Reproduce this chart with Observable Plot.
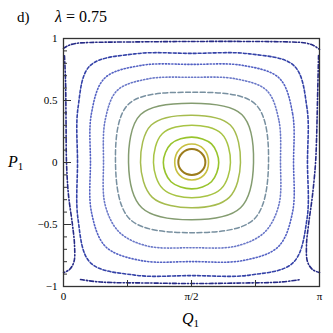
<!DOCTYPE html>
<html>
<head>
<meta charset="utf-8">
<script src="https://cdn.jsdelivr.net/npm/d3@7"></script>
<script src="https://cdn.jsdelivr.net/npm/@observablehq/plot@0.6"></script>
<style>
  html, body { margin: 0; padding: 0; background: #fff; }
</style>
</head>
<body>
<div id="chart"></div>
<script>
// ---- data: closed orbits (Q1, P1), innermost first ----
const ring1 = [[1.741,0],[1.692,0.076],[1.575,0.108],[1.458,0.076],[1.409,0],[1.458,-0.071],[1.575,-0.100],[1.692,-0.071]];
const ring2 = [[1.780,0],[1.723,0.107],[1.575,0.149],[1.424,0.107],[1.365,0],[1.424,-0.102],[1.575,-0.141],[1.723,-0.102]];
const ring3 = [[1.905,0],[1.816,0.150],[1.575,0.205],[1.319,0.150],[1.225,0],[1.319,-0.155],[1.575,-0.213],[1.816,-0.155]];
const ring4 = [[2.049,0],[1.940,0.232],[1.575,0.301],[1.212,0.232],[1.104,0],[1.222,-0.214],[1.575,-0.285],[1.931,-0.214]];
const ring5 = [[2.172,0],[2.047,0.302],[1.575,0.382],[1.077,0.302],[0.945,0],[1.090,-0.281],[1.575,-0.365],[2.035,-0.281]];
const ring6 = [[2.332,0],[2.188,0.387],[1.575,0.478],[0.946,0.387],[0.798,0],[0.961,-0.365],[1.575,-0.462],[2.173,-0.365]];
const ring7 = [[2.516,0],[2.356,0.470],[1.575,0.566],[0.797,0.470],[0.638,0],[0.816,-0.458],[1.575,-0.566],[2.337,-0.458]];
const ring8 = [[2.663,0],[2.642,0.344],[2.494,0.581],[2.119,0.674],[1.575,0.687],[1.033,0.674],[0.659,0.581],[0.512,0.344],
               [0.491,0],[0.512,-0.344],[0.686,-0.563],[1.033,-0.674],[1.575,-0.687],[2.119,-0.674],[2.467,-0.563],[2.642,-0.344]];
const ring9 = [[2.823,0],[2.811,0.396],[2.648,0.680],[2.199,0.783],[1.575,0.791],[0.953,0.783],[0.505,0.680],[0.343,0.396],
               [0.331,0],[0.343,-0.400],[0.518,-0.679],[0.953,-0.791],[1.575,-0.799],[2.199,-0.791],[2.636,-0.679],[2.811,-0.400]];
const ring10 = [[2.994,0],[2.988,0.440],[2.830,0.780],[2.285,0.876],[1.575,0.880],[0.874,0.876],[0.325,0.780],[0.178,0.440],
                [0.172,0],[0.178,-0.456],[0.330,-0.808],[0.874,-0.908],[1.575,-0.912],[2.285,-0.908],[2.818,-0.808],[2.988,-0.456]];
const rings = [ring1, ring2, ring3, ring4, ring5, ring6, ring7, ring8, ring9, ring10];

// ---- data: outer open orbits near the boundary ----
const topCurve = [[0,0.920],[0.061,0.944],[0.147,0.960],[0.331,0.968],[0.822,0.972],[1.571,0.976],[2.295,0.976],[2.786,0.972],[2.970,0.964],[3.068,0.944],[3.142,0.912]];
const bottomCurve = [[0.209,-0.944],[0.454,-0.964],[1.068,-0.972],[1.571,-0.976],[2.172,-0.972],[2.663,-0.964],[2.908,-0.944]];
const leftCurve = [[0.012,0.860],[0.025,0.663],[0.031,0.341],[0.037,-0.004],[0.061,-0.261],[0.110,-0.502],[0.135,-0.663],[0.129,-0.799],[0.074,-0.863],[0,-0.888]];
const rightCurve = [[3.130,0.863],[3.117,0.502],[3.105,0.181],[3.093,-0.004],[3.056,-0.261],[3.007,-0.502],[2.982,-0.663],[2.994,-0.799],[3.056,-0.863],[3.142,-0.888]];
const outerCurves = [topCurve, bottomCurve, leftCurve, rightCurve];

// ---- ticks and labels ----
const yMinorTicks = [-0.9,-0.8,-0.7,-0.6,-0.4,-0.3,-0.2,-0.1,0.1,0.2,0.3,0.4,0.6,0.7,0.8,0.9];
const yMajorTicks = [-0.5, 0, 0.5];
const yLabelValues = [-1, -0.5, 0, 0.5, 1];
const yLabelTexts = ["\u22121", "\u22120.5", "0", "0.5", "1"];
const xTickValues = [Math.PI/4, Math.PI/2, 3*Math.PI/4];
const xLabelValues = [0, Math.PI/2, Math.PI];
const xLabelTexts = ["0", "\u03c0/2", "\u03c0"];

// ---- styles ----
const ringColors = ["#9c7c1c", "#c8c040", "#98c42c", "#a8c444", "#a6bc4e", "#849c70", "#7890a0", "#6a78c8", "#5462c4", "#3442a8"];
const ringDash = [null, null, null, null, null, null, "5,2.5", "1.2,2", "1.2,2", "3,2"];
const ringWidth = [2, 1.6, 1.6, 1.5, 1.5, 1.5, 1.5, 1.6, 1.6, 1.6];

const W = 333, H = 333;
const mL = 63, mR = 14, mT = 38, mB = 47;
const fw = W - mL - mR, fh = H - mT - mB;

const yLabelMap = new Map(yLabelValues.map((v, i) => [v, yLabelTexts[i]]));
const xLabelMap = new Map(xLabelValues.map((v, i) => [v, xLabelTexts[i]]));

const marks = [];
rings.forEach((r, i) => {
  marks.push(Plot.line(r, {
    x: d => d[0], y: d => d[1],
    curve: "catmull-rom-closed",
    stroke: ringColors[i], strokeWidth: ringWidth[i],
    strokeDasharray: ringDash[i] ?? undefined
  }));
});
outerCurves.forEach(c => {
  marks.push(Plot.line(c, {
    x: d => d[0], y: d => d[1], curve: "catmull-rom",
    stroke: "#262a86", strokeWidth: 1.6, strokeDasharray: "4,2,1.2,2"
  }));
});
marks.push(
  Plot.tickY(yMinorTicks, {y: d => d, insetRight: fw - 4, stroke: "#333", strokeWidth: 1}),
  Plot.tickY(yMajorTicks, {y: d => d, insetRight: fw - 8, stroke: "#333", strokeWidth: 1}),
  Plot.tickX(xTickValues, {x: d => d, insetTop: fh - 6, stroke: "#333", strokeWidth: 1}),
  Plot.frame({stroke: "#333", strokeWidth: 1.3}),
  Plot.axisY(yLabelValues, {tickSize: 0, tickPadding: 6, tickFormat: d => yLabelMap.get(d), fontSize: 11}),
  Plot.axisX(xLabelValues, {tickSize: 0, tickPadding: 6, tickFormat: d => xLabelMap.get(d), fontSize: 11})
);

const svg = Plot.plot({
  width: W, height: H,
  marginLeft: mL, marginRight: mR, marginTop: mT, marginBottom: mB,
  x: {domain: [0, Math.PI], axis: null},
  y: {domain: [-1, 1], axis: null},
  style: {fontFamily: "'Liberation Serif', 'DejaVu Serif', serif", fontSize: "11px", background: "#fff", color: "#000"},
  marks
});

const s = d3.select(svg);
const font = "'Liberation Serif', 'DejaVu Serif', serif";
function addText(x, y, size) {
  return s.append("text").attr("x", x).attr("y", y)
    .attr("font-family", font).attr("font-size", size)
    .attr("text-anchor", "start").attr("fill", "#000");
}
// panel tag and title
addText(17, 22, 15).text("d)");
const title = addText(55, 22, 16);
title.append("tspan").attr("font-style", "italic").text("\u03bb");
title.append("tspan").text("\u00a0=\u00a00.75");
// axis titles
const py = addText(8, 167, 16);
py.append("tspan").attr("font-style", "italic").text("P");
py.append("tspan").attr("font-size", 11).attr("dy", 3).text("1");
const qx = addText(182, 324, 16);
qx.append("tspan").attr("font-style", "italic").text("Q");
qx.append("tspan").attr("font-size", 11).attr("dy", 3).text("1");

document.getElementById("chart").appendChild(svg);
</script>
</body>
</html>
